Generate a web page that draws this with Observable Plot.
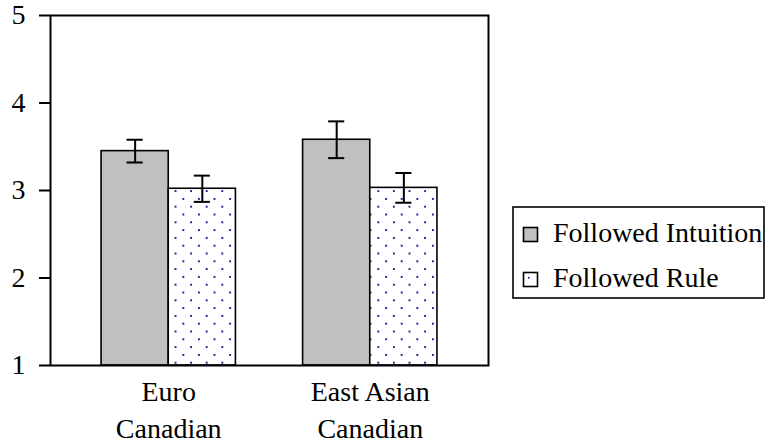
<!DOCTYPE html>
<html>
<head>
<meta charset="utf-8">
<script src="https://cdn.jsdelivr.net/npm/d3@7"></script>
<script src="https://cdn.jsdelivr.net/npm/@observablehq/plot@0.6"></script>
<style>
  html, body { margin: 0; padding: 0; background: #fff; }
  #wrap { position: relative; width: 769px; height: 447px; }
  #legend { position: absolute; left: 512px; top: 206px; }
</style>
</head>
<body>
<div id="wrap"></div>
<script>
// ---- data ----
const groups = ["Euro\nCanadian", "East Asian\nCanadian"];
const conditions = ["Followed Intuition", "Followed Rule"];
const intuitionMeans = [3.45, 3.58];
const intuitionErrors = [0.13, 0.21];
const ruleMeans = [3.02, 3.03];
const ruleErrors = [0.15, 0.17];
const yTicks = [1, 2, 3, 4, 5];

// grouped layout in "bar-width" units: each group = 2 bars, 1 bar-width gap between groups
const table = [];
groups.forEach((g, i) => {
  [[intuitionMeans, intuitionErrors], [ruleMeans, ruleErrors]].forEach(([m, e], c) => {
    table.push({group: g, gi: i, cond: conditions[c], ci: c, x1: i * 3 + c, x2: i * 3 + c + 1, mid: i * 3 + c + 0.5, mean: m[i], err: e[i]});
  });
});
const groupCenters = groups.map((g, i) => i * 3 + 1);

const GRAY = "#c0c0c0";
const NAVY = "#000080";
const FONT = "'Liberation Serif', 'DejaVu Serif', serif";

const defs = () => {
  const d = d3.create("svg:defs");
  const p = d.append("pattern").attr("id", "dots").attr("patternUnits", "userSpaceOnUse")
    .attr("width", 15.6).attr("height", 15.6);
  p.append("rect").attr("width", 15.6).attr("height", 15.6).attr("fill", "white");
  p.append("rect").attr("x", 3).attr("y", 3).attr("width", 1.8).attr("height", 1.8).attr("fill", NAVY);
  p.append("rect").attr("x", 10.8).attr("y", 10.8).attr("width", 1.8).attr("height", 1.8).attr("fill", NAVY);
  return d.node();
};

const chart = Plot.plot({
  width: 769,
  height: 447,
  marginTop: 15,
  marginBottom: 82,
  marginLeft: 50,
  marginRight: 281,
  style: {fontFamily: FONT, fontSize: "28px", color: "#000", background: "#fff"},
  x: {type: "linear", domain: [-0.76, 5.76], axis: null},
  y: {domain: [1, 5], axis: null},
  marks: [
    defs,
    Plot.rectY(table, {
      x1: "x1", x2: "x2", y1: 1, y2: "mean",
      fill: d => d.ci === 0 ? GRAY : "url(#dots)",
      stroke: "#000", strokeWidth: 1.6
    }),
    Plot.ruleX(table, {x: "mid", y1: d => d.mean - d.err, y2: d => d.mean + d.err, stroke: "#000", strokeWidth: 2}),
    Plot.ruleY(table, {y: d => d.mean + d.err, x1: d => d.mid - 0.12, x2: d => d.mid + 0.12, stroke: "#000", strokeWidth: 2}),
    Plot.ruleY(table, {y: d => d.mean - d.err, x1: d => d.mid - 0.12, x2: d => d.mid + 0.12, stroke: "#000", strokeWidth: 2}),
    Plot.frame({stroke: "#000", strokeWidth: 2}),
    Plot.axisY({ticks: yTicks, tickSize: 11, tickPadding: 14, tickFormat: d => String(d), stroke: "#000", strokeWidth: 2, strokeOpacity: 1, fill: "#000", label: null}),
    Plot.axisX({ticks: groupCenters, tickFormat: v => groups[(v - 1) / 3], tickSize: 0, tickPadding: 9, lineHeight: 1.32, fill: "#000", label: null})
  ]
});

const wrap = document.getElementById("wrap");
wrap.appendChild(chart);

// ---- legend ----
const lg = d3.create("svg").attr("id", "legend").attr("width", 254).attr("height", 94)
  .style("font-family", FONT).style("font-size", "28px");
lg.append("rect").attr("x", 1).attr("y", 1).attr("width", 251).attr("height", 91)
  .attr("fill", "white").attr("stroke", "#000").attr("stroke-width", 1.6);
const rows = [{label: conditions[0], fill: GRAY, y: 29}, {label: conditions[1], fill: "white", y: 74}];
rows.forEach((r, i) => {
  lg.append("rect").attr("x", 11.5).attr("y", r.y - 7.5).attr("width", 14).attr("height", 14)
    .attr("fill", r.fill).attr("stroke", "#000").attr("stroke-width", 1.6);
  if (i === 1) lg.append("rect").attr("x", 16).attr("y", r.y - 3).attr("width", 1.5).attr("height", 1.5).attr("fill", NAVY);
  lg.append("text").attr("x", 41).attr("y", r.y + 7).attr("fill", "#000").text(r.label);
});
wrap.appendChild(lg.node());
</script>
</body>
</html>
